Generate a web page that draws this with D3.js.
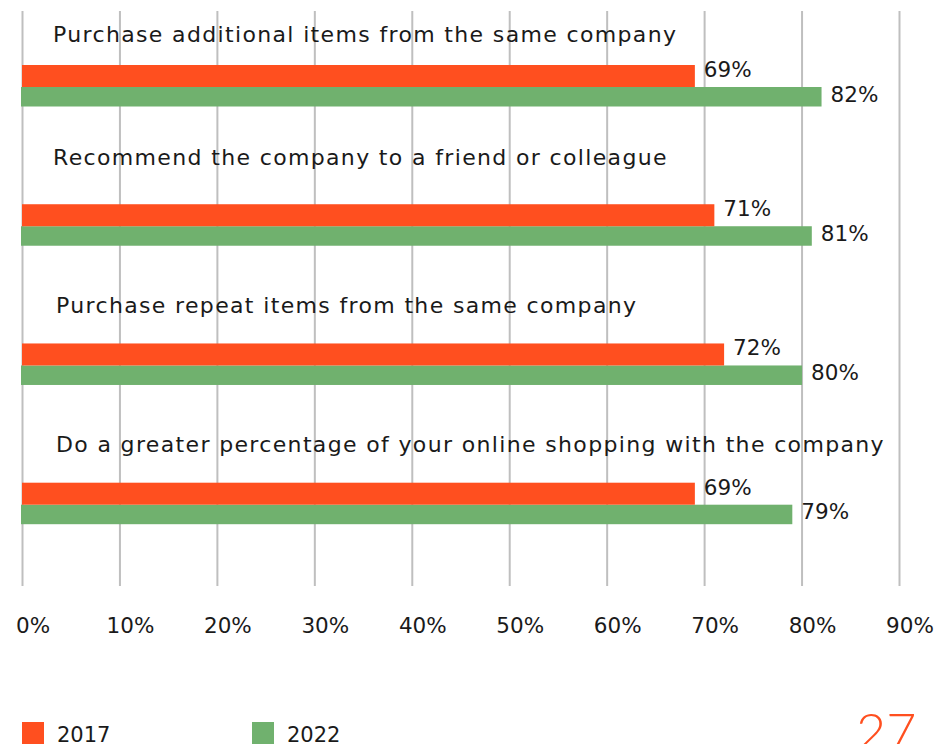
<!DOCTYPE html>
<html>
<head>
<meta charset="utf-8">
<script src="https://cdn.jsdelivr.net/npm/d3@7"></script>
<style>
  html, body { margin: 0; padding: 0; background: #ffffff; }
  svg { display: block; }
  text { font-family: "DejaVu Sans", "Open Sans", sans-serif; fill: #1a1a1a; }
</style>
</head>
<body>
<svg id="chart" width="951" height="744"></svg>
<script>
// Survey items, top to bottom
const categories = [
  "Purchase additional items from the same company",
  "Recommend the company to a friend or colleague",
  "Purchase repeat items from the same company",
  "Do a greater percentage of your online shopping with the company"
];
const series = ["2017", "2022"];
const values2017 = [69, 71, 72, 69];
const values2022 = [82, 81, 80, 79];
const tickValues = [0, 10, 20, 30, 40, 50, 60, 70, 80, 90];
const pageNumber = "27";

const colors = { "2017": "#ff4f1f", "2022": "#70b16e" };

// Layout
const W = 951, H = 744;
const gridTop = 11, gridBottom = 586;
const barH2017 = 22, barH2022 = 19.5;
// distance from each bar group up to its heading baseline
const headingLift = [23, 39, 30, 31];
const headingIndent = [53, 53, 56, 56];

const svg = d3.select("#chart");

const x = d3.scaleLinear().domain([0, 90]).range([22.5, 899.5]);
const y = d3.scalePoint().domain(categories).range([65, 482.7]);

// Vertical gridlines
svg.append("g")
  .selectAll("line")
  .data(tickValues)
  .join("line")
  .attr("x1", d => x(d)).attr("x2", d => x(d))
  .attr("y1", gridTop).attr("y2", gridBottom)
  .attr("stroke", "#bfbfbf")
  .attr("stroke-width", 2);

// Axis labels under the grid
const axis = d3.axisBottom(x)
  .tickValues(tickValues)
  .tickFormat(d => d + "%")
  .tickSize(0)
  .tickPadding(0);
const axisG = svg.append("g")
  .attr("transform", `translate(10, ${633})`)
  .call(axis);
axisG.select(".domain").remove();
axisG.selectAll("text")
  .attr("dy", 0)
  .attr("y", 0)
  .style("font-size", "21.5px")
  .style("font-family", "'DejaVu Sans', sans-serif")
  .attr("fill", "#1a1a1a");

const rows = categories.map((c, i) => ({
  cat: c, i, v2017: values2017[i], v2022: values2022[i]
}));

// Headings above each bar pair
svg.append("g")
  .selectAll("text")
  .data(rows)
  .join("text")
  .attr("x", d => headingIndent[d.i])
  .attr("y", d => y(d.cat) - headingLift[d.i])
  .style("font-size", "22px")
  .style("letter-spacing", "1.35px")
  .text(d => d.cat);

// 2022 bars (drawn first, sit under the 2017 bars)
svg.append("g")
  .selectAll("rect")
  .data(rows)
  .join("rect")
  .attr("x", x(0) - 1.5)
  .attr("y", d => y(d.cat) + barH2017)
  .attr("width", d => x(d.v2022) - x(0) + 1.5)
  .attr("height", barH2022)
  .attr("fill", colors["2022"]);

// 2017 bars
svg.append("g")
  .selectAll("rect")
  .data(rows)
  .join("rect")
  .attr("x", x(0) - 0.5)
  .attr("y", d => y(d.cat))
  .attr("width", d => x(d.v2017) - x(0) + 0.5)
  .attr("height", barH2017)
  .attr("fill", colors["2017"]);

// Value labels
const labels = svg.append("g").style("font-size", "21.5px");
labels.selectAll("text.v17")
  .data(rows)
  .join("text")
  .attr("class", "v17")
  .attr("x", d => x(d.v2017) + 9)
  .attr("y", d => y(d.cat) + barH2017 / 2 + 1)
  .text(d => d.v2017 + "%");
labels.selectAll("text.v22")
  .data(rows)
  .join("text")
  .attr("class", "v22")
  .attr("x", d => x(d.v2022) + 9)
  .attr("y", d => y(d.cat) + barH2017 + barH2022 / 2 + 5)
  .text(d => d.v2022 + "%");

// Legend
const legend = svg.append("g")
  .selectAll("g")
  .data(series)
  .join("g")
  .attr("transform", (d, i) => `translate(${22 + i * 230}, 722)`);
legend.append("rect")
  .attr("width", 22).attr("height", 22)
  .attr("fill", d => colors[d]);
legend.append("text")
  .attr("x", 35).attr("y", 20)
  .style("font-size", "21px")
  .text(d => d);

// Page number
svg.append("text")
  .attr("x", 856).attr("y", 750)
  .style("font-family", "Lato, sans-serif")
  .style("font-weight", 300)
  .style("font-size", "52px")
  .style("fill", colors["2017"])
  .text(pageNumber);
</script>
</body>
</html>
